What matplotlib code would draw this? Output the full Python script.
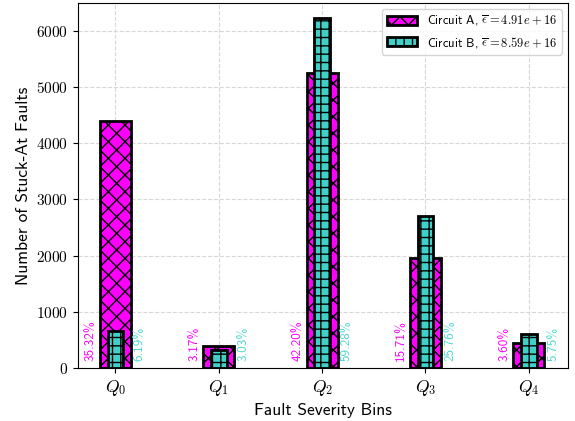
import numpy as np
import matplotlib
matplotlib.use("Agg")
import matplotlib.pyplot as plt
from matplotlib.ticker import FuncFormatter

plt.rcParams['font.family'] = ['cmss10', 'DejaVu Sans']
plt.rcParams['mathtext.fontset'] = 'cm'
plt.rcParams['axes.unicode_minus'] = False

# Daten
bins = [r'$Q_0$', r'$Q_1$', r'$Q_2$', r'$Q_3$', r'$Q_4$']
faults_a = [4400, 395, 5257, 1957, 448]
faults_b = [652, 319, 6240, 2712, 605]
pct_a = ['35.32%', '3.17%', '42.20%', '15.71%', '3.60%']
pct_b = ['6.19%', '3.03%', '59.28%', '25.76%', '5.75%']
label_a = r'Circuit A, $\overline{\epsilon} = 4.91e+16$'
label_b = r'Circuit B, $\overline{\epsilon} = 8.59e+16$'

col_a = '#ff00ff'
col_b = '#40d0c8'

x = np.arange(len(bins))

fig, ax = plt.subplots(figsize=(5.75, 4.21), dpi=100)

ax.bar(x, faults_a, width=0.3, color=col_a, edgecolor='black', linewidth=2,
       hatch='xx', label=label_a, zorder=2)
ax.bar(x, faults_b, width=0.15, color=col_b, edgecolor='black', linewidth=2,
       hatch='++', label=label_b, zorder=3)

# Prozentangaben
for i in range(len(bins)):
    ax.text(x[i] - 0.18, 130, pct_a[i], rotation=90, color=col_a,
            fontsize=9.5, ha='right', va='bottom')
    ax.text(x[i] + 0.18, 130, pct_b[i], rotation=90, color='#50d8d0',
            fontsize=9.5, ha='left', va='bottom')

ax.set_xticks(x)
ax.set_xticklabels(bins, fontsize=12.5)
ax.yaxis.set_major_formatter(FuncFormatter(lambda v, p: r'$%d$' % v))
ax.tick_params(axis='y', labelsize=11)
ax.set_xlim(-0.36, 4.38)
ax.set_ylim(0, 6500)

ax.grid(True, linestyle='--', color='#d8d8d8', linewidth=0.8, zorder=0)
ax.set_axisbelow(True)

ax.set_xlabel('Fault Severity Bins', fontsize=12.5)
ax.set_ylabel('Number of Stuck-At Faults', fontsize=12.5)
ax.legend(loc='upper right', fontsize=9, handlelength=2.4)

plt.subplots_adjust(left=0.136, right=0.988, top=0.993, bottom=0.126)
plt.savefig('out.png', dpi=100)
